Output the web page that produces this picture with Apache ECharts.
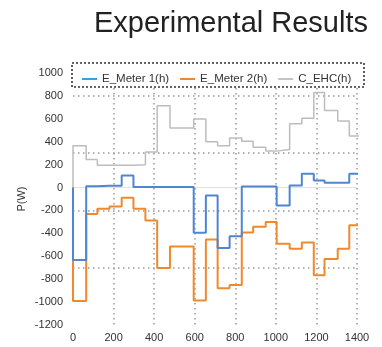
<!DOCTYPE html>
<html>
<head>
<meta charset="utf-8">
<script src="https://cdn.jsdelivr.net/npm/echarts@6/dist/echarts.min.js"></script>
<style>
html,body{margin:0;padding:0;background:#fff;}
#c{width:382px;height:347px;}
</style>
</head>
<body>
<div id="c"></div>
<script>
// time (minutes) at which each hourly value starts
const times = [0, 65, 120, 180, 240, 298, 357, 415, 478, 540, 595, 655, 713, 772, 832, 888, 950, 1004, 1068, 1128, 1187, 1240, 1305, 1362];
const endTime = 1412;
const meter1 = [-632, 11, 15, 15, 105, 5, 5, 5, 5, 5, -395, -70, -528, -425, 10, 10, 10, -157, 17, 120, 61, 41, 41, 120];
const meter2 = [-990, -230, -186, -166, -90, -186, -288, -703, -515, -515, -987, -454, -880, -850, -393, -343, -300, -490, -535, -480, -765, -623, -535, -330];
const ehc = [365, 245, 195, 195, 195, 200, 310, 715, 520, 520, 598, 400, 365, 432, 405, 352, 318, 332, 558, 605, 830, 672, 580, 450];
const startValue = 0;
const seriesNames = ['E_Meter 1(h)', 'E_Meter 2(h)', 'C_EHC(h)'];
const xTicks = [0, 200, 400, 600, 800, 1000, 1200, 1400];
const yTicks = [-1200, -1000, -800, -600, -400, -200, 0, 200, 400, 600, 800, 1000];

function build(vals) {
  const d = [[times[0], startValue]];
  vals.forEach((v, i) => d.push([times[i], v]));
  d.push([endTime, vals[vals.length - 1]]);
  return d;
}

const chart = echarts.init(document.getElementById('c'), null, {renderer: 'canvas'});
const font = 'Liberation Sans, Arial, sans-serif';
const dotted = {color: '#9a9a9a', width: 1.5, type: [1.5, 3.5]};

chart.setOption({
  animation: false,
  backgroundColor: '#fff',
  title: {
    text: 'Experimental Results',
    left: 89, top: 4,
    textStyle: {fontFamily: font, fontSize: 29, fontWeight: 'normal', color: '#222'}
  },
  grid: {left: 73, right: 25, top: 73, bottom: 22},
  legend: {
    left: 77, top: 68, itemGap: 11, itemWidth: 15, itemHeight: 2,
    icon: 'rect', z: 20,
    textStyle: {fontFamily: font, fontSize: 11.5, color: '#333'},
    data: [
      {name: seriesNames[0], itemStyle: {color: '#2ea6e0'}},
      {name: seriesNames[1], itemStyle: {color: '#f0892c'}},
      {name: seriesNames[2], itemStyle: {color: '#c4c4c4'}}
    ]
  },
  graphic: [{
    type: 'rect', z: 10,
    shape: {x: 72, y: 63, width: 292, height: 24},
    style: {fill: '#fff', stroke: '#333', lineWidth: 1.6, lineDash: [2, 2]}
  }],
  xAxis: {
    type: 'value', min: xTicks[0], max: xTicks[xTicks.length - 1], interval: 200,
    axisLine: {show: true, lineStyle: {color: '#e2e2e2', width: 1}},
    axisTick: {show: false},
    axisLabel: {fontFamily: font, fontSize: 11, color: '#333', margin: 7, formatter: v => String(v)},
    splitLine: {show: true, showMinLine: false, lineStyle: dotted}
  },
  yAxis: [{
    type: 'value', min: yTicks[0], max: yTicks[yTicks.length - 1], interval: 200,
    name: 'P(W)', nameLocation: 'middle', nameGap: 46, nameRotate: 90, nameMoveOverlap: false,
    nameTextStyle: {fontFamily: font, fontSize: 11, color: '#333'},
    axisLine: {show: false},
    axisTick: {show: false},
    axisLabel: {fontFamily: font, fontSize: 11, color: '#333', margin: 10, formatter: v => String(v)},
    splitLine: {show: false}
  }, {
    type: 'value', min: yTicks[0], max: yTicks[yTicks.length - 1], interval: 500,
    position: 'left',
    axisLine: {show: false}, axisTick: {show: false}, axisLabel: {show: false},
    splitLine: {show: true, showMinLine: false, showMaxLine: false, lineStyle: dotted}
  }],
  series: [
    {name: seriesNames[0], type: 'line', step: 'end', data: build(meter1), symbol: 'none', clip: false, z: 4,
     color: '#4f86d2', lineStyle: {width: 2, color: '#4f86d2'}},
    {name: seriesNames[1], type: 'line', step: 'end', data: build(meter2), symbol: 'none', clip: false, z: 3,
     color: '#f0892c', lineStyle: {width: 2, color: '#f0892c'}},
    {name: seriesNames[2], type: 'line', step: 'end', data: build(ehc), symbol: 'none', clip: false, z: 2,
     color: '#bdbdbd', lineStyle: {width: 1.5, color: '#bdbdbd'}}
  ]
});
</script>
</body>
</html>
